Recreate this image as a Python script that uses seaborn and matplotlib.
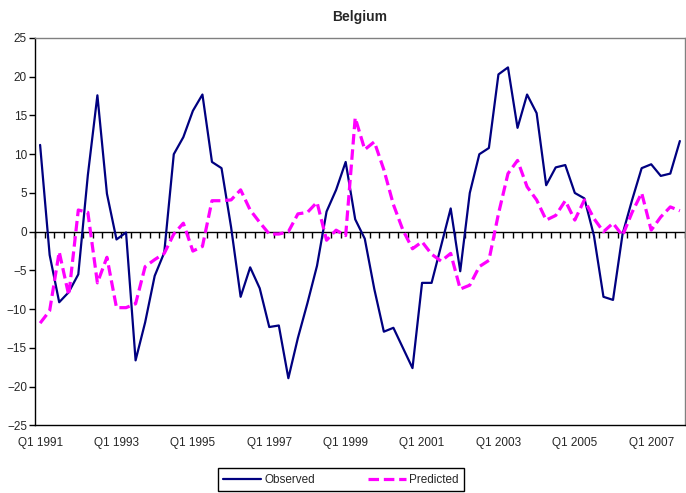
import matplotlib
matplotlib.use('Agg')
import matplotlib.pyplot as plt
import numpy as np
import pandas as pd
import seaborn as sns

anos = list(range(1991, 2008))
trimestres = ['Q1', 'Q2', 'Q3', 'Q4']
periodos = [q + ' ' + str(a) for a in anos for q in trimestres]

observado = [11.2, -3.0, -9.1, -7.8, -5.5, 7.3, 17.6, 4.9, -1.0, -0.1,
             -16.6, -11.7, -5.7, -2.7, 10.0, 12.2, 15.6, 17.7, 9.0, 8.2,
             0.6, -8.4, -4.6, -7.3, -12.3, -12.1, -18.9, -13.7, -9.2, -4.4,
             2.6, 5.4, 9.0, 1.6, -0.9, -7.4, -12.9, -12.4, -15.0, -17.6,
             -6.6, -6.6, -1.8, 3.0, -5.1, 5.0, 10.0, 10.8, 20.3, 21.2,
             13.4, 17.7, 15.3, 6.0, 8.3, 8.6, 5.0, 4.3, -0.5, -8.4,
             -8.8, -0.3, 4.1, 8.2, 8.7, 7.2, 7.5, 11.7]

previsto = [-11.8, -10.2, -2.6, -8.2, 2.8, 2.5, -6.6, -3.3, -9.8, -9.8,
            -9.3, -4.5, -3.6, -2.8, -0.3, 1.1, -2.5, -1.9, 4.0, 4.0,
            4.1, 5.4, 2.8, 1.2, -0.3, -0.3, 0.0, 2.3, 2.5, 3.8,
            -1.1, 0.2, -0.5, 14.7, 10.6, 11.6, 8.0, 3.5, 0.2, -2.2,
            -1.3, -2.9, -3.8, -2.8, -7.4, -6.9, -4.5, -3.7, 2.3, 7.5,
            9.2, 5.8, 4.1, 1.5, 2.1, 4.0, 1.5, 4.1, 1.7, 0.0,
            1.1, -0.5, 2.5, 5.0, 0.2, 1.9, 3.2, 2.7]

azul = '#000080'
magenta = '#FF00FF'

dados = pd.DataFrame({'pos': np.arange(len(periodos)),
                      'periodo': periodos,
                      'Observed': observado,
                      'Predicted': previsto})

sns.set_style('white')
plt.rcParams['font.family'] = ['Liberation Sans', 'DejaVu Sans']

fig, ax = plt.subplots(figsize=(6.86, 4.93), dpi=100)
fig.subplots_adjust(left=0.0515, right=0.998, top=0.923, bottom=0.137)

sns.lineplot(data=dados, x='pos', y='Observed', color=azul, linewidth=1.6,
             label='Observed', ax=ax)
sns.lineplot(data=dados, x='pos', y='Predicted', color=magenta,
             linewidth=2.3, dashes=False, label='Predicted', ax=ax)
ax.lines[1].set_dashes((3.3, 1.5))

ax.set_xlim(-0.5, len(periodos) - 0.5)
ax.set_ylim(-25, 25)
ax.set_yticks(np.arange(-25, 26, 5))
ax.set_xticks(dados['pos'][::8])
ax.set_xticklabels(dados['periodo'][::8])
ax.tick_params(axis='x', length=0, pad=8, labelsize=8.5)
ax.tick_params(axis='y', length=4, width=1, direction='out', left=True,
               pad=2, labelsize=8.5, color='black')
ax.set_xlabel('')
ax.set_ylabel('')

for lado in ['top', 'right']:
    ax.spines[lado].set_color('#808080')
for lado in ['left', 'bottom']:
    ax.spines[lado].set_color('black')
for lado in ax.spines:
    ax.spines[lado].set_linewidth(1.0)

# eixo horizontal cruzando no zero, com marcas entre categorias
eixo_zero = ax.secondary_xaxis(0.5)
eixo_zero.set_xticks(np.arange(-0.5, len(periodos), 1))
eixo_zero.set_xticklabels([])
eixo_zero.tick_params(axis='x', direction='in', length=4, width=1,
                      color='black')
for lado in eixo_zero.spines:
    eixo_zero.spines[lado].set_color('black')
    eixo_zero.spines[lado].set_linewidth(1.0)

ax.set_title('Belgium', fontweight='bold', fontsize=10, pad=12)

ax.get_legend().remove()
linhas = ax.get_lines()
fig.legend(handles=linhas[:2], labels=['Observed', 'Predicted'],
           loc='lower center', bbox_to_anchor=(0.497, -0.008), ncol=2,
           frameon=True, fancybox=False, edgecolor='black', framealpha=1,
           fontsize=8.5, handlelength=3.2, columnspacing=4.5,
           borderpad=0.45, handletextpad=0.3)

fig.savefig('out.png', dpi=100)
